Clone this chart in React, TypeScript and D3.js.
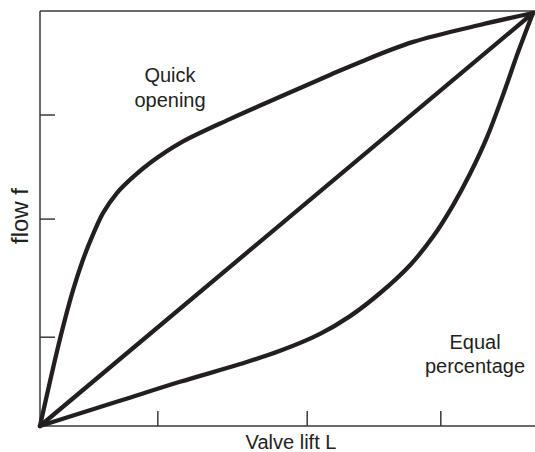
import React from "react";
import * as d3 from "d3";

// Normalised valve lift (0..1) and flow (0..1)
const quickLift = [0, 0.041, 0.067, 0.087, 0.108, 0.128, 0.156, 0.189, 0.229, 0.284, 0.385, 0.487, 0.588, 0.649, 0.757, 0.892, 1];
const quickFlow = [0, 0.213, 0.329, 0.402, 0.465, 0.516, 0.564, 0.603, 0.642, 0.685, 0.743, 0.797, 0.85, 0.881, 0.93, 0.971, 1];

const linearLift = [0, 1];
const linearFlow = [0, 1];

const equalLift = [0, 0.162, 0.284, 0.406, 0.487, 0.568, 0.629, 0.69, 0.751, 0.797, 0.838, 0.872, 0.907, 0.939, 0.97, 1];
const equalFlow = [0, 0.061, 0.107, 0.15, 0.182, 0.223, 0.266, 0.322, 0.39, 0.458, 0.535, 0.61, 0.7, 0.801, 0.906, 1];

const xTicks = [0.239, 0.542, 0.813];
const yTicks = [0.215, 0.501, 0.753];

const xLabel = "Valve lift L";
const yLabel = "flow f";
const quickLabel = ["Quick", "opening"];
const equalLabel = ["Equal", "percentage"];

const W = 535;
const H = 452;
const INK = "#231f20";
const AXIS = "#3a3a3a";
const FONT = "'Liberation Sans', Arial, Helvetica, sans-serif";

export default function App() {
  const x = d3.scaleLinear().domain([0, 1]).range([40, 533]);
  const y = d3.scaleLinear().domain([0, 1]).range([426, 13]);
  const line = d3
    .line<[number, number]>()
    .x((d) => x(d[0]))
    .y((d) => y(d[1]))
    .curve(d3.curveCatmullRom.alpha(0.5));

  const series = [
    quickLift.map((l, i) => [l, quickFlow[i]] as [number, number]),
    linearLift.map((l, i) => [l, linearFlow[i]] as [number, number]),
    equalLift.map((l, i) => [l, equalFlow[i]] as [number, number]),
  ];

  const left = x(0);
  const bottom = y(0);
  const top = y(1) - 2;

  return (
    <svg
      width={W}
      height={H}
      style={{ position: "absolute", left: 0, top: 0, background: "#fff" }}
      fontFamily={FONT}
    >
      {/* frame */}
      <line x1={left} x2={W} y1={top} y2={top} stroke={AXIS} strokeWidth={1.5} />
      <line x1={left} x2={W} y1={bottom} y2={bottom} stroke={AXIS} strokeWidth={1.5} />
      <line x1={left} x2={left} y1={top} y2={bottom} stroke={AXIS} strokeWidth={1.5} />
      {xTicks.map((t) => (
        <line key={"x" + t} x1={x(t)} x2={x(t)} y1={bottom} y2={bottom - 15} stroke={AXIS} strokeWidth={1.5} />
      ))}
      {yTicks.map((t) => (
        <line key={"y" + t} x1={left} x2={left + 15} y1={y(t)} y2={y(t)} stroke={AXIS} strokeWidth={1.5} />
      ))}

      {series.map((s, i) => (
        <path
          key={i}
          d={line(s) || ""}
          fill="none"
          stroke={INK}
          strokeWidth={4.3}
          strokeLinejoin="round"
          strokeLinecap="round"
        />
      ))}

      <text x={291} y={449} textAnchor="middle" fontSize={20} fill={INK}>
        {xLabel}
      </text>
      <text
        transform={`translate(28,216) rotate(-90)`}
        textAnchor="middle"
        fontSize={24}
        fill={INK}
      >
        {yLabel}
      </text>
      <text textAnchor="middle" fontSize={20} fill={INK}>
        <tspan x={170} y={82}>{quickLabel[0]}</tspan>
        <tspan x={170} y={107}>{quickLabel[1]}</tspan>
      </text>
      <text textAnchor="middle" fontSize={20} fill={INK}>
        <tspan x={475} y={349}>{equalLabel[0]}</tspan>
        <tspan x={475} y={373}>{equalLabel[1]}</tspan>
      </text>
    </svg>
  );
}
